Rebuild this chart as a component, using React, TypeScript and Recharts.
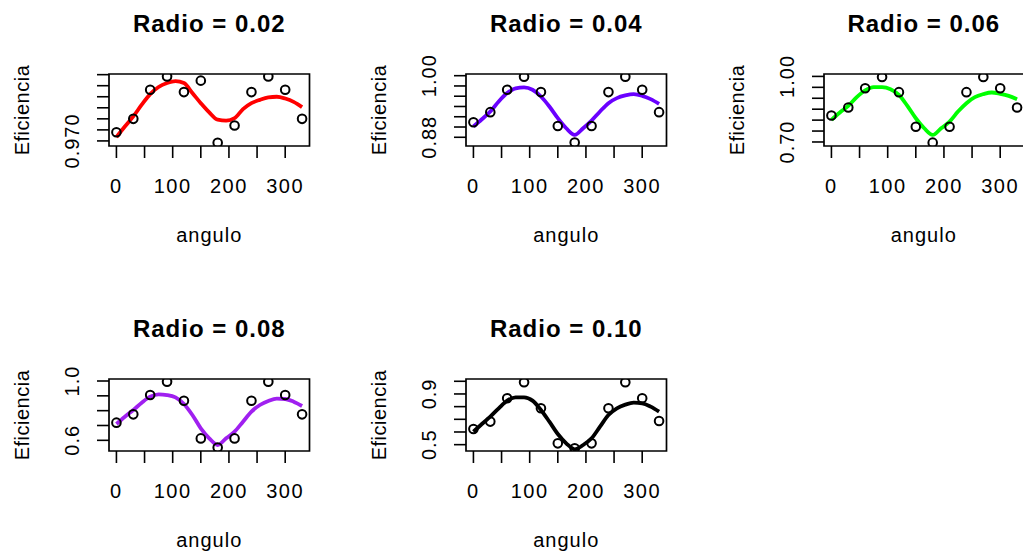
import React from "react";
import { ComposedChart, Line, Scatter, XAxis, YAxis, ReferenceArea } from "recharts";

// angles where efficiency was measured
const angulos = [0, 30, 60, 90, 120, 150, 180, 210, 240, 270, 300, 330];
// angles where the smooth fitted curve was read
const angulosAjuste = [0, 15, 30, 45, 60, 75, 90, 105, 120, 135, 150, 165, 180, 195, 210, 225, 240, 255, 270, 285, 300, 315, 330];

const xTicks = [0, 50, 100, 150, 200, 250, 300];
const xTickLabels = ["0", "", "100", "", "200", "", "300"];

// Radio = 0.02
const ef002 = [0.9739, 0.98, 0.9932, 0.9992, 0.9921, 0.9973, 0.9692, 0.977, 0.9921, 0.9992, 0.9932, 0.98];
const ajuste002 = [0.9717, 0.9765, 0.9811, 0.9864, 0.9912, 0.9944, 0.9962, 0.9971, 0.9962, 0.9917, 0.9871, 0.9829, 0.9796, 0.9792, 0.9803, 0.9844, 0.9871, 0.9886, 0.9897, 0.99, 0.9892, 0.9877, 0.9853];
const yTicks002 = [0.97, 0.975, 0.98, 0.985, 0.99, 0.995, 1.0];
const yLabels002 = ["0.970", "", "", "", "", "", ""];

// Radio = 0.04
const ef004 = [0.9093, 0.929, 0.9726, 0.998, 0.968, 0.902, 0.8696, 0.902, 0.968, 0.998, 0.9726, 0.929];
const ajuste004 = [0.9009, 0.9152, 0.9302, 0.9498, 0.9661, 0.9752, 0.9771, 0.9726, 0.9595, 0.94, 0.9172, 0.8976, 0.8846, 0.8976, 0.9126, 0.9302, 0.9465, 0.9563, 0.9615, 0.9641, 0.9608, 0.9543, 0.9452];
const yTicks004 = [0.88, 0.9, 0.92, 0.94, 0.96, 0.98, 1.0];
const yLabels004 = ["0.88", "", "", "", "", "", "1.00"];

// Radio = 0.06
const ef006 = [0.821, 0.8576, 0.946, 0.997, 0.928, 0.77, 0.697, 0.77, 0.928, 0.997, 0.946, 0.8576];
const ajuste006 = [0.801, 0.8346, 0.8652, 0.905, 0.9356, 0.9509, 0.9509, 0.9417, 0.9157, 0.8652, 0.8086, 0.7627, 0.7321, 0.7627, 0.7933, 0.8392, 0.8775, 0.905, 0.9188, 0.9264, 0.9203, 0.9111, 0.8958];
const yTicks006 = [0.7, 0.75, 0.8, 0.85, 0.9, 0.95, 1.0];
const yLabels006 = ["0.70", "", "", "", "", "", "1.00"];

// Radio = 0.08
const ef008 = [0.719, 0.775, 0.906, 0.9955, 0.867, 0.613, 0.551, 0.613, 0.867, 0.9955, 0.906, 0.775];
const ajuste008 = [0.7101, 0.7595, 0.8045, 0.8539, 0.8944, 0.9101, 0.9056, 0.8899, 0.8449, 0.7708, 0.6809, 0.6135, 0.5685, 0.6135, 0.6584, 0.7258, 0.7932, 0.8382, 0.8651, 0.8809, 0.8786, 0.8607, 0.8314];
const yTicks008 = [0.6, 0.7, 0.8, 0.9, 1.0];
const yLabels008 = ["0.6", "", "", "", "1.0"];

// Radio = 0.10
const ef010 = [0.624, 0.682, 0.866, 0.992, 0.787, 0.5105, 0.471, 0.5105, 0.787, 0.992, 0.866, 0.687];
const ajuste010 = [0.6026, 0.6632, 0.7211, 0.7869, 0.8474, 0.8737, 0.8737, 0.8474, 0.7737, 0.6816, 0.5842, 0.5105, 0.4632, 0.4974, 0.55, 0.6421, 0.7342, 0.7869, 0.8158, 0.8316, 0.8263, 0.8, 0.7605];
const yTicks010 = [0.5, 0.6, 0.7, 0.8, 0.9, 1.0];
const yLabels010 = ["0.5", "", "", "", "0.9", ""];

const FONT = "'Liberation Sans', Arial, Helvetica, sans-serif";
const X_DOMAIN: [number, number] = [-13.2, 343.2];

// plot box geometry inside each panel
const L = 110;
const T = 60;
const W = 200.5;
const H = 72;
const CW = 341;
const CH = 200;

const panels = [
  { title: "Radio = 0.02", ef: ef002, fit: ajuste002, color: "#ff0000", domain: [0.9677, 1.0003], ticks: yTicks002, labels: yLabels002, left: 109, top: 74.3 },
  { title: "Radio = 0.04", ef: ef004, fit: ajuste004, color: "#6a00ff", domain: [0.863, 1.0033], ticks: yTicks004, labels: yLabels004, left: 466, top: 74.3 },
  { title: "Radio = 0.06", ef: ef006, fit: ajuste006, color: "#00ff00", domain: [0.6816, 1.011], ticks: yTicks006, labels: yLabels006, left: 823.5, top: 74.3 },
  { title: "Radio = 0.08", ef: ef008, fit: ajuste008, color: "#a020f0", domain: [0.528, 1.0135], ticks: yTicks008, labels: yLabels008, left: 109, top: 379 },
  { title: "Radio = 0.10", ef: ef010, fit: ajuste010, color: "#000000", domain: [0.45, 1.018], ticks: yTicks010, labels: yLabels010, left: 466, top: 379 },
];

const Circle = (props: any) => (
  <circle cx={props.cx} cy={props.cy} r={4.3} fill="none" stroke="#000" strokeWidth={2} />
);

const XTick = (props: any) => {
  const label = xTickLabels[props.index] ?? "";
  return (
    <text x={props.x} y={props.y} dy="0.71em" textAnchor="middle" fontSize={20} fontFamily={FONT} fill="#000" style={{ letterSpacing: 1.5 }}>
      {label}
    </text>
  );
};

function Panel({ p }: { p: any }) {
  const puntos = angulos.map((a, i) => ({ angulo: a, eficiencia: p.ef[i] }));
  const curva = angulosAjuste.map((a, i) => ({ angulo: a, ajuste: p.fit[i] }));

  const YTick = (props: any) => {
    const label = p.labels[props.index] ?? "";
    return (
      <text x={props.x} y={props.y} transform={`rotate(-90 ${props.x} ${props.y})`} textAnchor="middle" fontSize={20} fontFamily={FONT} fill="#000" style={{ letterSpacing: 1 }}>
        {label}
      </text>
    );
  };

  return (
    <div style={{ position: "absolute", left: p.left - L, top: p.top - T, width: CW, height: CH }}>
      <ComposedChart
        width={CW}
        height={CH}
        margin={{ top: T, left: L - 60, right: CW - L - W, bottom: CH - T - H - 60 }}
      >
        <XAxis
          dataKey="angulo"
          type="number"
          domain={X_DOMAIN}
          ticks={xTicks}
          interval={0}
          allowDataOverflow
          height={60}
          tickSize={12}
          tickMargin={20.5}
          axisLine={false}
          tickLine={{ stroke: "#000", strokeWidth: 1.6 }}
          tick={XTick}
        />
        <YAxis
          type="number"
          domain={p.domain}
          ticks={p.ticks}
          interval={0}
          allowDataOverflow
          width={60}
          tickSize={12}
          tickMargin={17.7}
          axisLine={false}
          tickLine={{ stroke: "#000", strokeWidth: 1.6 }}
          tick={YTick}
        />
        <ReferenceArea
          x1={X_DOMAIN[0]}
          x2={X_DOMAIN[1]}
          y1={p.domain[0]}
          y2={p.domain[1]}
          fill="none"
          fillOpacity={0}
          stroke="#000"
          strokeWidth={1.7}
          ifOverflow="visible"
        />
        <Line
          data={curva}
          dataKey="ajuste"
          type="monotone"
          stroke={p.color}
          strokeWidth={3.8}
          dot={false}
          activeDot={false}
          isAnimationActive={false}
        />
        <Scatter data={puntos} dataKey="eficiencia" shape={Circle} isAnimationActive={false} />
      </ComposedChart>

      <div
        style={{
          position: "absolute", left: L, width: W, top: T - 42 - 20.3, textAlign: "center",
          fontFamily: FONT, fontWeight: "bold", fontSize: 24, lineHeight: "24px", letterSpacing: 1, whiteSpace: "nowrap",
        }}
      >
        {p.title}
      </div>
      <div
        style={{
          position: "absolute", left: L, width: W, top: T + H + 96 - 16.9, textAlign: "center",
          fontFamily: FONT, fontSize: 20, lineHeight: "20px", letterSpacing: 1, whiteSpace: "nowrap",
        }}
      >
        angulo
      </div>
      <div
        style={{
          position: "absolute", left: L - 86.9, top: T + H / 2, transform: "translate(-50%, -50%) rotate(-90deg)",
          fontFamily: FONT, fontSize: 20, lineHeight: "20px", letterSpacing: 0.5, whiteSpace: "nowrap",
        }}
      >
        Eficiencia
      </div>
    </div>
  );
}

export default function App() {
  return (
    <div style={{ position: "absolute", left: 0, top: 0, width: 1023, height: 557, overflow: "hidden", background: "#fff" }}>
      {panels.map((p) => (
        <Panel key={p.title} p={p} />
      ))}
    </div>
  );
}
